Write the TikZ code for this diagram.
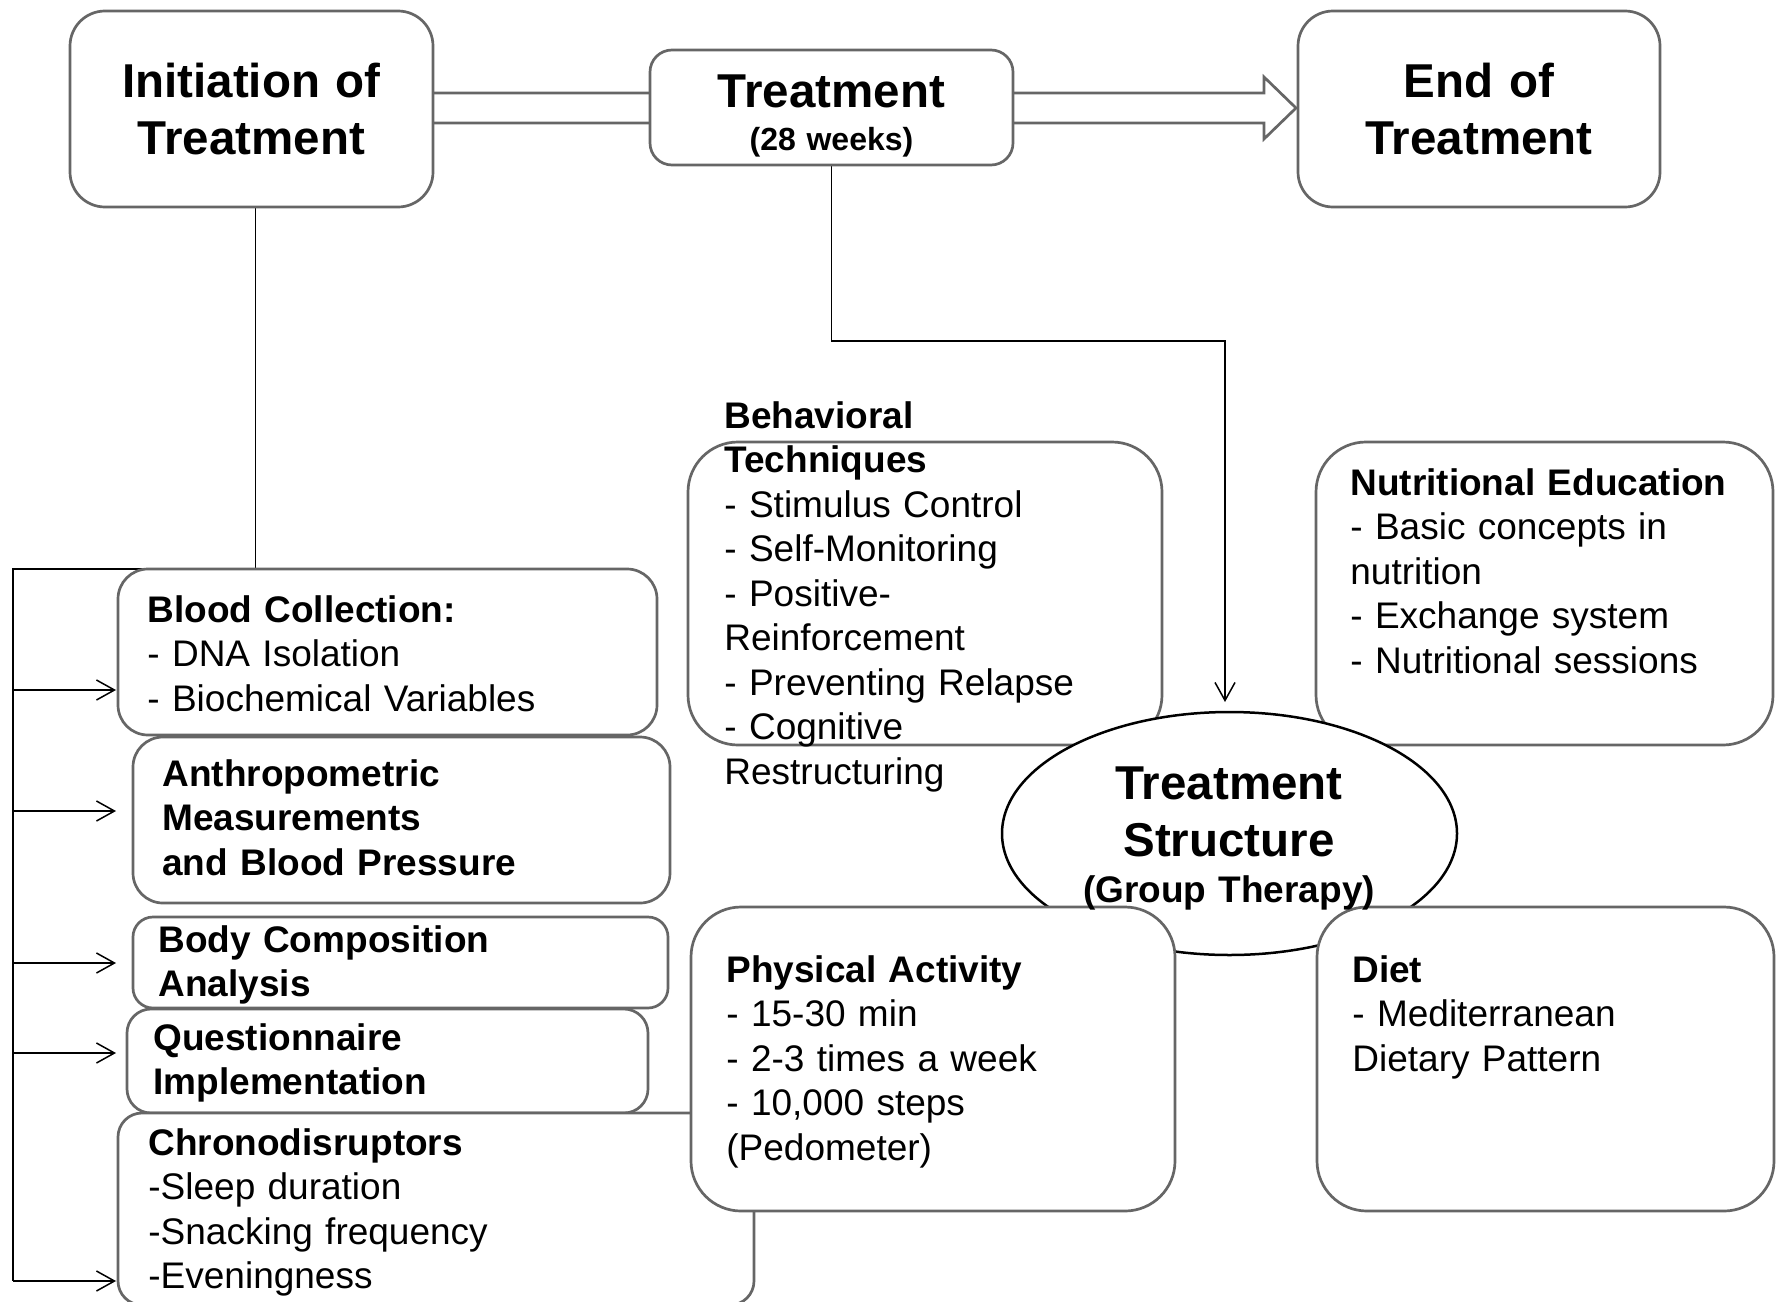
\documentclass[tikz,border=0pt]{standalone}
\usepackage{fontspec}
\setmainfont{Liberation Sans}
\usetikzlibrary{arrows.meta,shapes.geometric,calc}
\pgfdeclarelayer{bg}
\pgfsetlayers{bg,main}
\definecolor{boxgray}{HTML}{666666}
\newcommand\fbody{\fontsize{18.5}{22.25}\selectfont}
\newcommand\fbig{\fontsize{23.75}{28.5}\selectfont\bfseries}
\newcommand\fweeks{\fontsize{16}{19}\selectfont\bfseries}
\begin{document}
\begin{tikzpicture}[x=0.5pt,y=-0.5pt,
  box/.style={draw=boxgray, line width=1.35pt, fill=white, rounded corners=#1, inner sep=0pt, outer sep=0pt},
  box/.default=15pt,
  conn/.style={draw=black, line width=0.75pt},
  arr/.style={conn, -{Straight Barb[length=9pt,width=10pt,line width=0.75pt]}},
  barrow/.style={draw=boxgray, line width=1.35pt, line join=miter},
  txt/.style={inner sep=0pt, anchor=base west, text width=300pt, align=left, font=\fbody},
  ctr/.style={inner sep=0pt, anchor=base, text width=200pt, align=center, font=\fbig}
]
\useasboundingbox (0,0) rectangle (1782,1301);

% boxes
\node[box=17.5pt, minimum width=181.5pt, minimum height=98pt] (init) at (251.5,109) {};
\node[box=11pt, minimum width=181.5pt, minimum height=57.5pt] (treat) at (831.5,107.5) {};
\node[box=17.5pt, minimum width=181pt, minimum height=98pt] (endb) at (1479,109) {};
\node[box=15pt, minimum width=269.5pt, minimum height=83pt] (bc) at (387.5,652) {};
\node[box=15pt, minimum width=268.5pt, minimum height=83pt] (anth) at (401.5,820) {};
\node[box=10pt, minimum width=267.5pt, minimum height=45.5pt] (body) at (400.5,962.5) {};
\node[box=12pt, minimum width=260.5pt, minimum height=52pt] (quest) at (387.5,1061) {};
\node[box=12pt, minimum width=318pt, minimum height=96pt] (chrono) at (436,1209) {};
\node[box=25pt, minimum width=237pt, minimum height=151.5pt] (behav) at (925,593.5) {};
\node[box=25pt, minimum width=228.5pt, minimum height=151.5pt] (nutr) at (1544.5,593.5) {};
\node[ellipse, draw=black, line width=1.25pt, fill=white, inner sep=0pt,
      minimum width=227.5pt, minimum height=121.5pt] (ts) at (1229.5,833.5) {};
\node[box=25pt, minimum width=242pt, minimum height=152pt] (pa) at (933,1059) {};
\node[box=25pt, minimum width=228.5pt, minimum height=152pt] (diet) at (1545.5,1059) {};

% connectors (behind boxes)
\coordinate (bus0) at (13,569);
\coordinate (b1) at (13,690);
\coordinate (b2) at (13,811);
\coordinate (b3) at (13,963);
\coordinate (b4) at (13,1053);
\coordinate (b5) at (13,1281);
\coordinate (tipx) at (116,0);
\coordinate (turn) at (1225,341);
\coordinate (tsin) at (1225,702);
\begin{pgfonlayer}{bg}
\fill[white] (0,0) rectangle (1782,1301);
\draw[barrow] ($(init.east)+(0,-16)$) -- (1264,93) -- (1264,77) -- ($(endb.west)+(-2,-1)$)
   -- (1264,139) -- (1264,123) -- ($(init.east)+(0,14)$);
\draw[conn] ($(init.south)+(4,0)$) |- (bus0) -- (b5);
\draw[arr] (b1) -- (b1 -| tipx);
\draw[arr] (b2) -- (b2 -| tipx);
\draw[arr] (b3) -- (b3 -| tipx);
\draw[arr] (b4) -- (b4 -| tipx);
\draw[arr] (b5) -- (b5 -| tipx);
\draw[arr] (treat.south) |- (turn) -- (tsin);
\end{pgfonlayer}

% texts
\node[ctr] (initT) at (251.5,97) {Initiation of\\Treatment};
\node[ctr] (endT) at (1479,97) {End of\\Treatment};
\node[ctr] (treatT) at (831.5,107) {Treatment};
\node[ctr, font=\fweeks] (weeksT) at (831.5,150) {(28 weeks)};
\node[ctr, font=\fontsize{23.75}{28.75}\selectfont\bfseries] (tsT) at (1229,799) {Treatment\\Structure};
\node[ctr, font=\fbody\bfseries] (tsG) at (1229,902) {(Group Therapy)};

\node[txt] (bcT) at (147,622) {\textbf{Blood Collection:}\\- DNA Isolation\\- Biochemical Variables};
\node[txt, font=\fbody\bfseries] (anthT) at (162,786) {Anthropometric\\Measurements\\and Blood Pressure};
\node[txt, font=\fbody\bfseries] (bodyT) at (158,952) {Body Composition\\Analysis};
\node[txt, font=\fbody\bfseries] (questT) at (153,1050) {Questionnaire\\Implementation};
\node[txt] (chronoT) at (148,1155) {\textbf{Chronodisruptors}\\-Sleep duration\\-Snacking frequency\\-Eveningness};
\node[txt] (behavT) at (724,428) {\textbf{Behavioral}\\\textbf{Techniques}\\- Stimulus Control\\- Self-Monitoring\\- Positive-\\Reinforcement\\- Preventing Relapse\\- Cognitive\\Restructuring};
\node[txt] (nutrT) at (1350,495) {\textbf{Nutritional Education}\\- Basic concepts in\\nutrition\\- Exchange system\\- Nutritional sessions};
\node[txt] (paT) at (726,982) {\textbf{Physical Activity}\\- 15-30 min\\- 2-3 times a week\\- 10,000 steps\\(Pedometer)};
\node[txt] (dietT) at (1352,982) {\textbf{Diet}\\- Mediterranean\\Dietary Pattern};
\end{tikzpicture}
\end{document}
